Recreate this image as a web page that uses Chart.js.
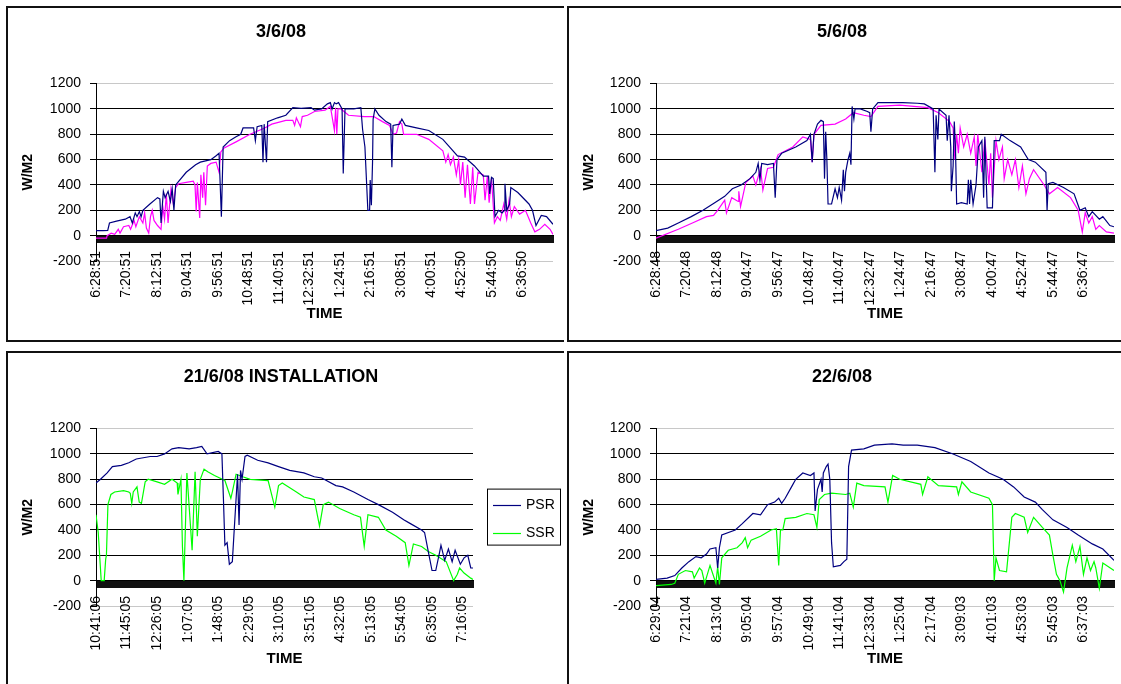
<!DOCTYPE html>
<html>
<head>
<meta charset="utf-8">
<script src="https://cdn.jsdelivr.net/npm/chart.js@4.4.1/dist/chart.umd.min.js"></script>
<style>
  body { margin: 0; background: #fff; width: 1121px; height: 684px; overflow: hidden; position: relative; }
  .box { position: absolute; border: 2px solid #111; border-right: none; }
  canvas { position: absolute; }
</style>
</head>
<body>
<div class="box" style="left:6px;top:6px;width:556px;height:332px"></div>
<div class="box" style="left:567px;top:6px;width:560px;height:332px"></div>
<div class="box" style="left:6px;top:351px;width:556px;height:340px;border-bottom:none"></div>
<div class="box" style="left:567px;top:351px;width:560px;height:340px;border-bottom:none"></div>
<canvas id="c1" width="552" height="330" style="left:9px;top:9px"></canvas>
<canvas id="c2" width="551" height="330" style="left:570px;top:9px"></canvas>
<canvas id="c3" width="552" height="330" style="left:9px;top:354px"></canvas>
<canvas id="c4" width="551" height="330" style="left:570px;top:354px"></canvas>
<script>
Chart.defaults.font.family = 'Arial, "Liberation Sans", sans-serif';
Chart.defaults.color = '#000';

const names = ['PSR', 'SSR'];
const titles = ['3/6/08', '5/6/08', '21/6/08 INSTALLATION', '22/6/08'];

// tick labels (one every 52 samples, 41 for the installation day)
const labels1 = ['6:28:51','7:20:51','8:12:51','9:04:51','9:56:51','10:48:51','11:40:51','12:32:51','1:24:51','2:16:51','3:08:51','4:00:51','4:52:50','5:44:50','6:36:50'];
const labels2 = ['6:28:48','7:20:48','8:12:48','9:04:47','9:56:47','10:48:47','11:40:47','12:32:47','1:24:47','2:16:47','3:08:47','4:00:47','4:52:47','5:44:47','6:36:47'];
const labels3 = ['10:41:06','11:45:05','12:26:05','1:07:05','1:48:05','2:29:05','3:10:05','3:51:05','4:32:05','5:13:05','5:54:05','6:35:05','7:16:05'];
const labels4 = ['6:29:04','7:21:04','8:13:04','9:05:04','9:57:04','10:49:04','11:41:04','12:33:04','1:25:04','2:17:04','3:09:03','4:01:03','4:53:03','5:45:03','6:37:03'];

// [sample, W/M2]
const psr1 = [[0,40],[12,40],[20,42],[23,100],[35,115],[50,130],[58,150],[62,100],[67,180],[70,150],[74,190],[77,150],[80,200],[92,250],[105,300],[109,290],[111,100],[115,350],[118,300],[123,350],[127,270],[130,370],[133,200],[136,400],[154,500],[170,560],[178,580],[196,600],[205,630],[210,650],[214,150],[217,700],[228,750],[239,780],[247,800],[251,850],[263,850],[269,850],[272,750],[275,860],[283,870],[285,580],[287,880],[291,580],[293,900],[310,930],[324,950],[336,1010],[350,1005],[367,1010],[373,990],[385,1000],[395,1040],[400,1050],[403,1000],[407,1050],[410,1040],[414,1050],[420,1000],[422,490],[425,1000],[440,1000],[452,1010],[455,840],[459,700],[464,200],[467,200],[468,440],[470,240],[472,580],[473,920],[476,1000],[483,950],[495,900],[503,880],[505,540],[507,870],[518,880],[522,920],[528,870],[547,850],[568,830],[592,760],[617,630],[629,620],[646,550],[661,470],[670,470],[672,330],[675,460],[678,450],[681,150],[687,200],[693,180],[697,200],[698,410],[701,200],[706,250],[708,380],[720,340],[739,250],[745,200],[751,80],[760,160],[769,150],[780,90]];
const ssr1 = [[0,-20],[18,-20],[19,0],[26,20],[32,10],[38,50],[41,20],[47,70],[56,80],[59,50],[65,120],[68,70],[74,150],[80,100],[83,180],[86,60],[90,20],[93,150],[96,200],[99,120],[105,80],[111,50],[114,230],[117,130],[120,330],[123,100],[128,370],[132,250],[136,380],[141,410],[154,420],[166,430],[169,400],[171,190],[173,420],[177,140],[179,480],[182,300],[184,500],[187,240],[190,550],[196,570],[205,580],[210,500],[213,660],[218,690],[239,740],[263,800],[288,850],[300,880],[324,910],[336,910],[339,870],[342,930],[349,860],[352,940],[361,950],[373,980],[391,990],[400,1020],[407,830],[409,1010],[411,800],[413,1000],[418,1000],[431,950],[458,940],[474,940],[489,900],[501,870],[507,800],[513,810],[518,900],[522,880],[525,800],[547,800],[568,760],[592,670],[597,580],[601,640],[605,560],[610,620],[615,480],[619,600],[622,400],[626,580],[630,300],[634,560],[639,250],[643,540],[646,250],[652,500],[661,480],[664,280],[668,470],[671,260],[675,450],[680,100],[685,150],[690,120],[696,250],[701,130],[705,280],[709,150],[714,230],[723,170],[733,200],[742,100],[749,30],[757,50],[766,90],[775,50],[780,10]];

const psr2 = [[0,40],[20,60],[38,100],[60,150],[80,200],[100,260],[117,310],[130,370],[145,400],[160,450],[170,500],[174,570],[177,440],[180,570],[190,560],[200,570],[203,300],[206,600],[214,650],[238,700],[257,750],[263,800],[266,580],[269,800],[275,880],[281,910],[285,900],[287,450],[289,820],[291,600],[293,250],[299,250],[305,370],[309,300],[312,380],[316,280],[319,520],[321,350],[323,500],[327,600],[330,650],[332,560],[334,1020],[337,920],[339,1000],[348,1000],[360,980],[364,970],[366,820],[369,1000],[378,1050],[420,1050],[445,1045],[457,1040],[472,1000],[475,500],[477,950],[480,760],[482,1000],[494,950],[496,750],[499,950],[502,700],[503,350],[506,550],[508,900],[510,700],[512,250],[520,260],[530,250],[532,440],[534,250],[536,440],[540,250],[545,400],[549,700],[555,750],[558,300],[560,780],[564,220],[573,220],[576,750],[585,750],[588,800],[603,750],[621,700],[634,600],[646,580],[664,500],[666,200],[668,410],[676,420],[694,380],[712,330],[722,200],[731,220],[737,150],[743,190],[755,130],[761,150],[773,80],[780,70]];
const ssr2 = [[0,-20],[38,50],[62,100],[86,150],[98,160],[105,200],[117,280],[120,180],[129,300],[140,270],[141,350],[144,230],[153,420],[165,470],[170,400],[178,530],[182,360],[190,530],[200,540],[208,640],[233,700],[250,780],[263,760],[266,580],[269,800],[281,870],[305,880],[323,920],[336,970],[354,950],[366,940],[378,1020],[415,1030],[463,1010],[481,970],[500,900],[506,850],[509,600],[512,800],[515,650],[518,850],[524,700],[530,800],[536,650],[542,780],[545,550],[548,800],[555,500],[560,760],[567,400],[570,650],[573,300],[579,750],[584,600],[590,700],[593,450],[599,600],[606,480],[612,600],[618,380],[624,550],[630,330],[636,450],[643,520],[661,400],[670,330],[684,380],[706,300],[719,200],[726,30],[731,180],[737,100],[743,150],[749,50],[755,80],[767,30],[780,20]];

const psr3 = [[0,770],[6,800],[15,850],[22,900],[34,910],[44,930],[54,960],[73,980],[82,980],[92,1000],[102,1040],[111,1050],[125,1040],[135,1050],[142,1060],[149,1000],[164,1020],[169,1000],[171,650],[173,280],[176,300],[179,130],[183,150],[185,350],[190,840],[192,440],[194,870],[196,800],[200,980],[203,990],[217,950],[231,930],[245,900],[260,870],[279,850],[293,820],[303,810],[322,750],[331,740],[346,700],[365,640],[379,600],[398,540],[413,480],[422,450],[437,400],[441,380],[446,230],[451,80],[456,80],[461,220],[463,280],[468,160],[473,250],[478,150],[482,240],[489,130],[494,180],[499,200],[503,100],[506,100]];
const ssr3 = [[0,520],[3,380],[7,0],[11,0],[13,170],[14,200],[16,600],[20,680],[25,700],[37,710],[44,700],[46,690],[48,610],[50,700],[55,740],[58,620],[61,610],[66,780],[70,800],[82,780],[92,760],[102,800],[109,770],[110,680],[114,800],[116,270],[118,0],[122,850],[129,240],[133,860],[136,350],[140,800],[145,880],[150,860],[159,830],[173,790],[181,650],[183,700],[188,840],[197,820],[207,800],[231,790],[240,580],[245,750],[250,770],[269,700],[279,660],[293,640],[300,430],[305,600],[312,620],[327,570],[346,520],[355,500],[360,270],[365,520],[379,500],[389,400],[403,350],[415,300],[420,120],[426,290],[437,270],[446,230],[456,200],[470,150],[480,0],[485,50],[488,100],[494,60],[503,20],[506,10]];

const psr4 = [[0,10],[19,20],[32,40],[44,100],[56,150],[68,190],[77,180],[86,210],[92,250],[102,260],[105,100],[108,260],[112,360],[135,400],[147,450],[165,530],[178,520],[190,600],[202,620],[209,650],[214,610],[220,650],[232,750],[238,800],[250,850],[263,830],[269,850],[271,550],[275,720],[281,800],[283,700],[285,850],[290,900],[293,920],[296,800],[299,300],[302,110],[314,120],[320,150],[325,170],[328,900],[333,1030],[354,1040],[372,1070],[402,1080],[421,1070],[445,1070],[475,1050],[506,1000],[536,940],[567,850],[591,800],[609,740],[627,660],[646,620],[658,560],[676,480],[700,420],[719,360],[743,290],[761,250],[780,160]];
const ssr4 = [[0,-40],[26,-30],[32,-20],[38,50],[50,80],[62,70],[65,20],[74,100],[78,80],[83,-20],[92,120],[102,-20],[105,110],[108,-30],[112,180],[123,240],[138,260],[147,300],[152,340],[156,260],[162,320],[178,350],[196,400],[205,410],[209,120],[212,400],[216,400],[220,490],[238,500],[257,530],[269,520],[274,420],[278,640],[287,680],[299,690],[323,680],[330,690],[336,580],[342,770],[354,750],[390,740],[395,620],[403,830],[415,800],[451,760],[454,680],[463,820],[481,750],[512,740],[515,680],[521,780],[536,700],[567,650],[573,600],[576,0],[579,180],[585,80],[597,70],[606,500],[612,530],[627,500],[633,380],[643,500],[658,420],[670,360],[676,200],[682,50],[688,0],[694,-90],[700,100],[709,280],[715,150],[722,270],[728,50],[734,180],[740,80],[746,150],[749,100],[755,-60],[761,140],[780,80]];

// boxed legend to the right of the plot (only used on the installation chart)
const boxLegend = {
  id: 'boxLegend',
  afterDraw(chart, args, opts) {
    if (!opts.show) return;
    const { ctx, chartArea } = chart;
    const x = chartArea.right + 14, y = chartArea.top + 60;
    ctx.save();
    ctx.strokeStyle = '#000';
    ctx.lineWidth = 1;
    ctx.strokeRect(x + 0.5, y + 0.5, 73, 56);
    ctx.font = '14px Arial, "Liberation Sans", sans-serif';
    ctx.textBaseline = 'middle';
    chart.data.datasets.forEach((ds, i) => {
      const ly = Math.round(y + 16 + i * 28) + 0.5;
      ctx.strokeStyle = ds.borderColor;
      ctx.lineWidth = 1.2;
      ctx.beginPath();
      ctx.moveTo(x + 6, ly);
      ctx.lineTo(x + 34, ly);
      ctx.stroke();
      ctx.fillStyle = '#000';
      ctx.fillText(ds.label, x + 39, ly);
    });
    ctx.restore();
  }
};

function makeChart(id, title, tickLabels, step, len, psr, ssr, ssrColor, padRight, axisWidth, legendSpace) {
  const scales = {
    // time labels hang just under the -200 line, like Excel's "low" labels
    x: {
      type: 'linear', position: { y: -200 }, min: 0, max: len,
      grid: { display: false, drawTicks: false },
      border: { display: false },
      afterBuildTicks: s => { s.ticks = tickLabels.map((t, i) => ({ value: i * step })); },
      afterFit: s => { s.height = 78; },
      ticks: { autoSkip: false, minRotation: 90, maxRotation: 90, padding: -10, font: { size: 14 },
               callback: (v, i) => tickLabels[i] },
      title: { display: true, text: 'TIME', font: { size: 15, weight: 'bold' }, padding: { top: 0, bottom: 16 } }
    },
    // category axis crossing at 0 with one tick per sample -> black band
    xb: {
      type: 'linear', axis: 'x', position: { y: 0 }, min: 0, max: len,
      afterBuildTicks: s => { const t = []; for (let v = 0; v <= len; v += 1) t.push({ value: v }); s.ticks = t; },
      ticks: { display: false },
      grid: { drawOnChartArea: false, tickLength: 7, color: '#111' },
      border: { color: '#000' }
    },
    y: {
      min: -200, max: 1200,
      afterFit: s => { s.width = axisWidth; },
      ticks: { stepSize: 200, padding: 9, font: { size: 14 }, callback: v => String(v) },
      grid: { tickLength: 6, tickColor: '#000',
              color: c => (c.tick && (c.tick.value === 1200 || c.tick.value === -200)) ? '#c8c8c8' : '#000' },
      border: { color: '#000' },
      title: { display: true, text: 'W/M2', font: { size: 14, weight: 'bold' }, padding: { top: 11, bottom: 0 } }
    }
  };
  if (legendSpace) {
    scales.yr = {
      type: 'linear', axis: 'y', position: 'right', min: -200, max: 1200,
      grid: { display: false, drawTicks: false }, border: { display: false }, ticks: { display: false },
      afterFit: s => { s.width = legendSpace; }
    };
  }
  new Chart(document.getElementById(id), {
    type: 'line',
    data: {
      datasets: [
        { label: names[0], data: psr, borderColor: '#000080', backgroundColor: '#000080', borderWidth: 1.2, pointRadius: 0, tension: 0 },
        { label: names[1], data: ssr, borderColor: ssrColor, backgroundColor: ssrColor, borderWidth: 1.2, pointRadius: 0, tension: 0 }
      ]
    },
    options: {
      responsive: false,
      animation: false,
      events: [],
      layout: { padding: { right: padRight, bottom: 78 } },
      plugins: {
        legend: { display: false },
        tooltip: { enabled: false },
        title: { display: true, text: title, font: { size: 18, weight: 'bold' }, padding: { top: 12, bottom: 41 } },
        boxLegend: { show: !!legendSpace }
      },
      scales
    },
    plugins: [boxLegend]
  });
}

makeChart('c1', titles[0], labels1, 52, 780, psr1, ssr1, '#ff00ff', 8, 87, 0);
makeChart('c2', titles[1], labels2, 52, 780, psr2, ssr2, '#ff00ff', 7, 86, 0);
makeChart('c3', titles[2], labels3, 41, 506, psr3, ssr3, '#00ff00', 8, 87, 80);
makeChart('c4', titles[3], labels4, 52, 780, psr4, ssr4, '#00ff00', 7, 86, 0);
</script>
</body>
</html>
